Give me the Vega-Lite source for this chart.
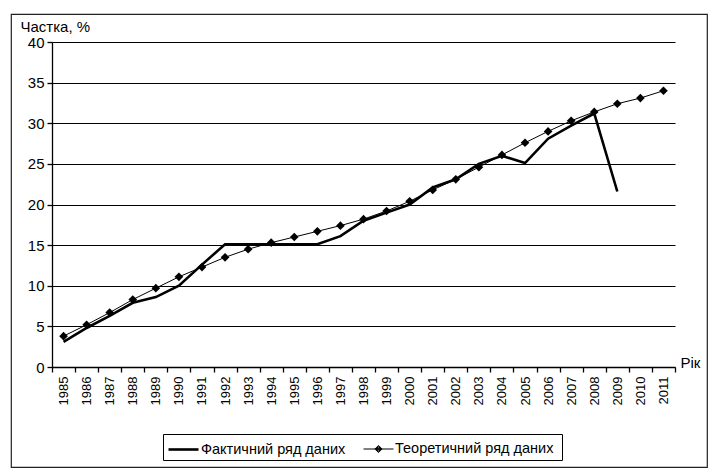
{
  "$schema": "https://vega.github.io/schema/vega-lite/v6.json",
  "width": 696,
  "height": 453,
  "autosize": "none",
  "padding": {"left": 11, "top": 14, "right": 17, "bottom": 4},
  "config": {
    "font": "Liberation Sans",
    "view": {"stroke": "#222222", "strokeWidth": 1.2},
    "axis": {
      "domainColor": "black", "domainWidth": 1.3,
      "tickColor": "black", "tickWidth": 1.3,
      "labelColor": "black", "titleColor": "black",
      "gridColor": "black", "gridOpacity": 1, "gridWidth": 1.2,
      "titleFontWeight": "normal"
    },
    "legend": {
      "orient": "none", "legendX": 152, "legendY": 420,
      "direction": "horizontal", "strokeColor": "black", "padding": 4,
      "labelFontSize": 14.5, "labelColor": "black", "labelOffset": 11,
      "labelLimit": 400, "columnPadding": 15, "symbolSize": 400,
      "symbolOpacity": 1, "symbolStrokeColor": "black"
    }
  },
  "data": {
    "values": [
      {"year": "1985", "series": "Фактичний ряд даних", "value": 3.1},
      {"year": "1986", "series": "Фактичний ряд даних", "value": 4.8},
      {"year": "1987", "series": "Фактичний ряд даних", "value": 6.3},
      {"year": "1988", "series": "Фактичний ряд даних", "value": 7.9},
      {"year": "1989", "series": "Фактичний ряд даних", "value": 8.6},
      {"year": "1990", "series": "Фактичний ряд даних", "value": 10.0},
      {"year": "1991", "series": "Фактичний ряд даних", "value": 12.6},
      {"year": "1992", "series": "Фактичний ряд даних", "value": 15.1},
      {"year": "1993", "series": "Фактичний ряд даних", "value": 15.1},
      {"year": "1994", "series": "Фактичний ряд даних", "value": 15.1},
      {"year": "1995", "series": "Фактичний ряд даних", "value": 15.1},
      {"year": "1996", "series": "Фактичний ряд даних", "value": 15.1},
      {"year": "1997", "series": "Фактичний ряд даних", "value": 16.1},
      {"year": "1998", "series": "Фактичний ряд даних", "value": 18.0},
      {"year": "1999", "series": "Фактичний ряд даних", "value": 19.0},
      {"year": "2000", "series": "Фактичний ряд даних", "value": 20.0},
      {"year": "2001", "series": "Фактичний ряд даних", "value": 22.1},
      {"year": "2002", "series": "Фактичний ряд даних", "value": 23.1},
      {"year": "2003", "series": "Фактичний ряд даних", "value": 25.0},
      {"year": "2004", "series": "Фактичний ряд даних", "value": 26.0},
      {"year": "2005", "series": "Фактичний ряд даних", "value": 25.1},
      {"year": "2006", "series": "Фактичний ряд даних", "value": 28.1},
      {"year": "2007", "series": "Фактичний ряд даних", "value": 29.7},
      {"year": "2008", "series": "Фактичний ряд даних", "value": 31.2},
      {"year": "2009", "series": "Фактичний ряд даних", "value": 21.6},
      {"year": "1985", "series": "Теоретичний  ряд даних", "value": 3.8},
      {"year": "1986", "series": "Теоретичний  ряд даних", "value": 5.2},
      {"year": "1987", "series": "Теоретичний  ряд даних", "value": 6.7},
      {"year": "1988", "series": "Теоретичний  ряд даних", "value": 8.3},
      {"year": "1989", "series": "Теоретичний  ряд даних", "value": 9.7},
      {"year": "1990", "series": "Теоретичний  ряд даних", "value": 11.1},
      {"year": "1991", "series": "Теоретичний  ряд даних", "value": 12.3},
      {"year": "1992", "series": "Теоретичний  ряд даних", "value": 13.5},
      {"year": "1993", "series": "Теоретичний  ряд даних", "value": 14.5},
      {"year": "1994", "series": "Теоретичний  ряд даних", "value": 15.3},
      {"year": "1995", "series": "Теоретичний  ряд даних", "value": 16.0},
      {"year": "1996", "series": "Теоретичний  ряд даних", "value": 16.7},
      {"year": "1997", "series": "Теоретичний  ряд даних", "value": 17.4},
      {"year": "1998", "series": "Теоретичний  ряд даних", "value": 18.2},
      {"year": "1999", "series": "Теоретичний  ряд даних", "value": 19.2},
      {"year": "2000", "series": "Теоретичний  ряд даних", "value": 20.4},
      {"year": "2001", "series": "Теоретичний  ряд даних", "value": 21.8},
      {"year": "2002", "series": "Теоретичний  ряд даних", "value": 23.1},
      {"year": "2003", "series": "Теоретичний  ряд даних", "value": 24.6},
      {"year": "2004", "series": "Теоретичний  ряд даних", "value": 26.1},
      {"year": "2005", "series": "Теоретичний  ряд даних", "value": 27.6},
      {"year": "2006", "series": "Теоретичний  ряд даних", "value": 29.0},
      {"year": "2007", "series": "Теоретичний  ряд даних", "value": 30.3},
      {"year": "2008", "series": "Теоретичний  ряд даних", "value": 31.4},
      {"year": "2009", "series": "Теоретичний  ряд даних", "value": 32.4},
      {"year": "2010", "series": "Теоретичний  ряд даних", "value": 33.1},
      {"year": "2011", "series": "Теоретичний  ряд даних", "value": 34.0}
    ]
  },
  "encoding": {
    "x": {
      "field": "year", "type": "ordinal", "bandPosition": 0.5,
      "scale": {"type": "band", "range": [41, 664], "paddingInner": 0, "paddingOuter": 0},
      "axis": {
        "orient": "bottom", "offset": -100,
        "labelAngle": -90, "labelAlign": "right", "labelBaseline": "middle",
        "labelFontSize": 13, "labelPadding": 4,
        "tickSize": 5, "tickBand": "extent", "grid": false,
        "title": "Рік", "titleFontSize": 15, "titleAngle": 0,
        "titleX": 669, "titleY": -5, "titleAlign": "left", "titleBaseline": "middle"
      }
    },
    "y": {
      "field": "value", "type": "quantitative",
      "scale": {"domain": [0, 40], "range": [353, 28], "nice": false},
      "axis": {
        "orient": "left", "offset": -41,
        "values": [0, 5, 10, 15, 20, 25, 30, 35, 40],
        "grid": true, "tickSize": 5, "labelFontSize": 15, "labelPadding": 3,
        "title": "Частка, %", "titleFontSize": 15, "titleAngle": 0,
        "titleX": -32, "titleY": 17, "titleAlign": "left", "titleBaseline": "alphabetic"
      }
    }
  },
  "layer": [
    {
      "transform": [{"filter": "datum.series === 'Теоретичний  ряд даних'"}],
      "mark": {"type": "line", "color": "black", "strokeWidth": 1}
    },
    {
      "transform": [{"filter": "datum.series === 'Фактичний ряд даних'"}],
      "mark": {"type": "line", "color": "black", "strokeWidth": 2.6}
    },
    {
      "transform": [{"filter": "datum.series === 'Теоретичний  ряд даних'"}],
      "mark": {"type": "point", "shape": "diamond", "filled": true, "color": "black", "opacity": 1, "size": 75}
    },
    {
      "mark": {"type": "point", "filled": false, "color": "black", "opacity": 0},
      "encoding": {
        "shape": {
          "field": "series", "type": "nominal",
          "scale": {
            "domain": ["Фактичний ряд даних", "Теоретичний  ряд даних"],
            "range": [
              "M-1,0L2,0",
              "M-1,0L2,0M0.5,-0.36L0.86,0L0.5,0.36L0.14,0ZM0.5,-0.25L0.75,0L0.5,0.25L0.25,0ZM0.5,-0.14L0.64,0L0.5,0.14L0.36,0ZM0.5,-0.05L0.55,0L0.5,0.05L0.45,0Z"
            ]
          },
          "legend": {"title": null}
        },
        "strokeWidth": {
          "field": "series", "type": "nominal",
          "scale": {
            "domain": ["Фактичний ряд даних", "Теоретичний  ряд даних"],
            "range": [2.6, 1]
          },
          "legend": {"title": null}
        }
      }
    }
  ]
}
